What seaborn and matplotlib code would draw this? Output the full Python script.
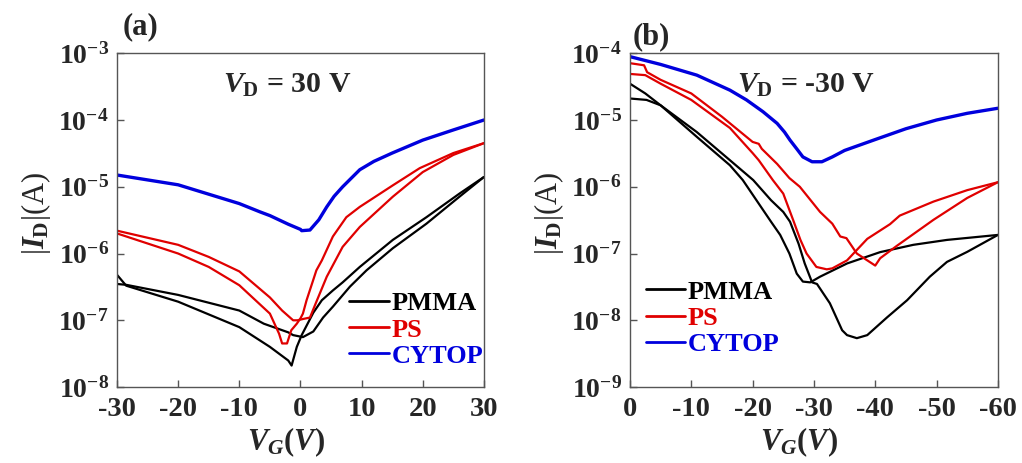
import matplotlib
matplotlib.use('Agg')
import matplotlib.pyplot as plt
import seaborn as sns
from matplotlib.lines import Line2D

# ---- panel (a): VD = 30 V ----
a_pmma1_vg = [-30, -28.5, -20, -10, -6, -2, -1.2, 0.4, 2.1, 3.7, 5.3, 8.1, 10.8, 15.1, 20.6, 26, 30]
a_pmma1_id = [3.5e-7, 3.4e-7, 2.4e-7, 1.4e-7, 8.9e-8, 6.6e-8, 6.0e-8, 5.6e-8, 6.8e-8, 1.1e-7, 1.6e-7,
              3.2e-7, 5.6e-7, 1.2e-6, 2.8e-6, 7.1e-6, 1.4e-5]
a_pmma2_vg = [-30, -28.5, -20, -10, -5, -2, -1.45, -0.6, 0.2, 2.1, 3.5, 5.3, 6.9, 9.7, 15.1, 20.6, 26, 30]
a_pmma2_id = [4.8e-7, 3.3e-7, 1.9e-7, 7.9e-8, 4.0e-8, 2.5e-8, 2.1e-8, 4.0e-8, 6.0e-8, 1.3e-7, 2.0e-7,
              2.8e-7, 3.7e-7, 6.3e-7, 1.6e-6, 3.5e-6, 7.9e-6, 1.4e-5]
a_ps1_vg = [-30, -20, -15, -10, -5, -3.5, -3, -2.2, -1.5, -0.6, 0, 0.4, 1, 2, 2.6, 3.5, 5.3, 7.5, 9.7,
            15.1, 19.5, 25, 30]
a_ps1_id = [2.0e-6, 1.0e-6, 6.3e-7, 3.35e-7, 1.26e-7, 6.3e-8, 4.5e-8, 4.5e-8, 7.1e-8, 8.9e-8, 1.07e-7,
            1.26e-7, 2.0e-7, 3.8e-7, 5.6e-7, 7.9e-7, 1.8e-6, 3.5e-6, 5.0e-6, 1.05e-5, 1.9e-5, 3.2e-5, 4.5e-5]
a_ps2_vg = [-30, -20, -15, -10, -5, -3, -1.2, -0.5, 0.5, 1.55, 2.5, 4.3, 6.9, 9.7, 15.1, 20, 25, 30]
a_ps2_id = [2.2e-6, 1.35e-6, 8.9e-7, 5.4e-7, 2.2e-7, 1.4e-7, 1.0e-7, 1.0e-7, 1.05e-7, 1.1e-7, 1.8e-7,
            4.5e-7, 1.26e-6, 2.5e-6, 7.1e-6, 1.66e-5, 3.0e-5, 4.5e-5]
a_cytop_vg = [-30, -20, -10, -6.6, -5, -2, 0, 0.2, 1.55, 3, 4.3, 5.5, 6.9, 8, 9.7, 12, 15, 20, 25, 30]
a_cytop_id = [1.5e-5, 1.07e-5, 5.6e-6, 4.2e-6, 3.7e-6, 2.75e-6, 2.3e-6, 2.2e-6, 2.25e-6, 3.2e-6, 5.0e-6,
              7.2e-6, 1.0e-5, 1.26e-5, 1.8e-5, 2.4e-5, 3.2e-5, 5.0e-5, 7.1e-5, 1.0e-4]

# ---- panel (b): VD = -30 V ----
b_pmma1_vg = [0, -2.5, -5, -10.9, -16.3, -18.4, -21, -23, -24.5, -26, -27.2, -28.2, -29.4, -31, -35.4,
              -40.8, -46.2, -51.7, -60]
b_pmma1_id = [3.5e-5, 2.5e-5, 1.66e-5, 5.6e-6, 2.1e-6, 1.26e-6, 5.6e-7, 3.0e-7, 1.9e-7, 1.0e-7, 5.0e-8,
              3.8e-8, 3.7e-8, 4.5e-8, 7.1e-8, 1.05e-7, 1.35e-7, 1.6e-7, 1.9e-7]
b_pmma2_vg = [0, -2.7, -5, -10.9, -16.3, -20.1, -23, -25, -26.1, -27.5, -28.5, -29.7, -30.5, -32.6, -34.6,
              -35.4, -37, -38.7, -41.9, -45.2, -48.9, -51.7, -55, -60]
b_pmma2_id = [2.1e-5, 2.0e-5, 1.66e-5, 6.6e-6, 2.5e-6, 1.26e-6, 6.3e-7, 4.2e-7, 3.0e-7, 1.4e-7, 7.1e-8,
              3.7e-8, 3.5e-8, 1.8e-8, 7.1e-9, 6.0e-9, 5.4e-9, 6.0e-9, 1.1e-8, 2.0e-8, 4.5e-8, 7.5e-8,
              1.06e-7, 1.9e-7]
b_ps1_vg = [0, -2.3, -2.8, -5, -10, -15, -20, -21, -21.5, -24, -26, -27.7, -31, -33, -34.3, -35.3, -37,
            -38.7, -40, -40.8, -43.5, -49.5, -55, -60]
b_ps1_id = [7.1e-5, 6.6e-5, 5.2e-5, 4.0e-5, 2.5e-5, 1.12e-5, 4.7e-6, 4.4e-6, 3.7e-6, 2.2e-6, 1.35e-6,
            1.0e-6, 4.2e-7, 2.8e-7, 1.8e-7, 1.7e-7, 1.0e-7, 7.9e-8, 6.6e-8, 8.5e-8, 1.3e-7, 3.2e-7,
            6.8e-7, 1.17e-6]
b_ps2_vg = [0, -2.5, -5, -10, -16.3, -20, -21, -23.3, -25, -26.6, -27.8, -28.8, -30.4, -32.1, -33, -35.4,
            -38.7, -42.4, -44, -49.5, -55, -60]
b_ps2_id = [4.9e-5, 4.7e-5, 3.5e-5, 2.0e-5, 7.6e-6, 3.2e-6, 2.5e-6, 1.26e-6, 7.9e-7, 3.2e-7, 1.6e-7,
            1.0e-7, 6.3e-8, 5.8e-8, 6.0e-8, 7.9e-8, 1.66e-7, 2.75e-7, 3.7e-7, 6.0e-7, 8.9e-7, 1.17e-6]
b_cytop_vg = [0, -5, -10.9, -16.3, -19, -21.7, -24, -25.2, -26.1, -27.2, -28.2, -29.7, -31.3, -33, -35,
              -40, -45, -50, -55, -60]
b_cytop_id = [8.9e-5, 6.8e-5, 4.7e-5, 2.8e-5, 2.0e-5, 1.33e-5, 8.9e-6, 6.6e-6, 5.0e-6, 3.7e-6, 2.8e-6,
              2.37e-6, 2.37e-6, 2.8e-6, 3.5e-6, 5.1e-6, 7.4e-6, 1.0e-5, 1.26e-5, 1.5e-5]

labels = ['PMMA', 'PS', 'CYTOP']
colors = ['black', '#e00000', '#0000dd']

sns.set_style('ticks')
plt.rcParams['font.family'] = ['Liberation Serif', 'DejaVu Serif']
plt.rcParams['font.weight'] = 'bold'
plt.rcParams['mathtext.fontset'] = 'custom'
plt.rcParams['mathtext.rm'] = 'Liberation Serif:bold'
plt.rcParams['mathtext.bf'] = 'Liberation Serif:bold'
plt.rcParams['mathtext.it'] = 'Liberation Serif:italic:bold'
plt.rcParams['mathtext.default'] = 'rm'
plt.rcParams['axes.unicode_minus'] = False

fig = plt.figure(figsize=(10.22, 4.63), dpi=100)
ax1 = fig.add_axes([0.1145, 0.164, 0.359, 0.721])
ax2 = fig.add_axes([0.6164, 0.164, 0.360, 0.721])


def draw(ax, curves):
    for vg, i_d, color, lw in curves:
        sns.lineplot(x=vg, y=i_d, sort=False, color=color, lw=lw, ax=ax)


draw(ax1, [(a_pmma1_vg, a_pmma1_id, colors[0], 1.6), (a_pmma2_vg, a_pmma2_id, colors[0], 1.6),
           (a_ps1_vg, a_ps1_id, colors[1], 1.6), (a_ps2_vg, a_ps2_id, colors[1], 1.6),
           (a_cytop_vg, a_cytop_id, colors[2], 2.4)])
draw(ax2, [(b_pmma1_vg, b_pmma1_id, colors[0], 1.6), (b_pmma2_vg, b_pmma2_id, colors[0], 1.6),
           (b_ps1_vg, b_ps1_id, colors[1], 1.6), (b_ps2_vg, b_ps2_id, colors[1], 1.6),
           (b_cytop_vg, b_cytop_id, colors[2], 2.4)])


def style(ax, xlim, xticks, ylim, vd_text, panel, panel_xy, leg_xy):
    ax.set_yscale('log')
    ax.set_xlim(*xlim)
    ax.set_xticks(xticks)
    ax.set_xticklabels([str(t) for t in xticks])
    ax.set_ylim(*ylim)
    ax.minorticks_off()
    for s in ax.spines.values():
        s.set_color('#555555')
        s.set_linewidth(1.0)
    ax.tick_params(axis='both', direction='in', length=5, width=1, color='#555555',
                   top=False, right=False)
    ax.tick_params(axis='x', pad=7, labelsize=20.5)
    ax.tick_params(axis='y', pad=6, labelsize=20)
    ax.set_xlabel(r'$\mathit{V_G(V)}$', fontsize=22)
    ax.xaxis.set_label_coords(0.46, -0.115)
    ax.set_ylabel(r'|$\mathit{I}_{\mathrm{D}}$|(A)', fontsize=22)
    ax.yaxis.set_label_coords(-0.175, 0.52)
    ax.text(0.29, 0.883, vd_text, transform=ax.transAxes, fontsize=21.5, ha='left', va='baseline')
    ax.text(panel_xy[0], panel_xy[1], panel, transform=ax.transAxes, fontsize=22,
            ha='left', va='baseline')
    handles = [Line2D([], [], color=c, lw=2) for c in colors]
    ax.legend(handles, labels, loc='upper left', bbox_to_anchor=leg_xy, frameon=False, fontsize=19,
              handlelength=1.5, handletextpad=0.1, labelspacing=0.1, borderpad=0, borderaxespad=0,
              labelcolor='linecolor')


style(ax1, (-30, 30), [-30, -20, -10, 0, 10, 20, 30], (1e-8, 1e-3),
      r'$\mathit{V}_{\mathrm{D}}$ = 30 V', '(a)', (0.014, 1.057), (0.633, 0.285))
style(ax2, (0, -60), [0, -10, -20, -30, -40, -50, -60], (1e-9, 1e-4),
      r'$\mathit{V}_{\mathrm{D}}$ = -30 V', '(b)', (0.008, 1.027), (0.043, 0.32))

fig.savefig('out.png', dpi=100)
